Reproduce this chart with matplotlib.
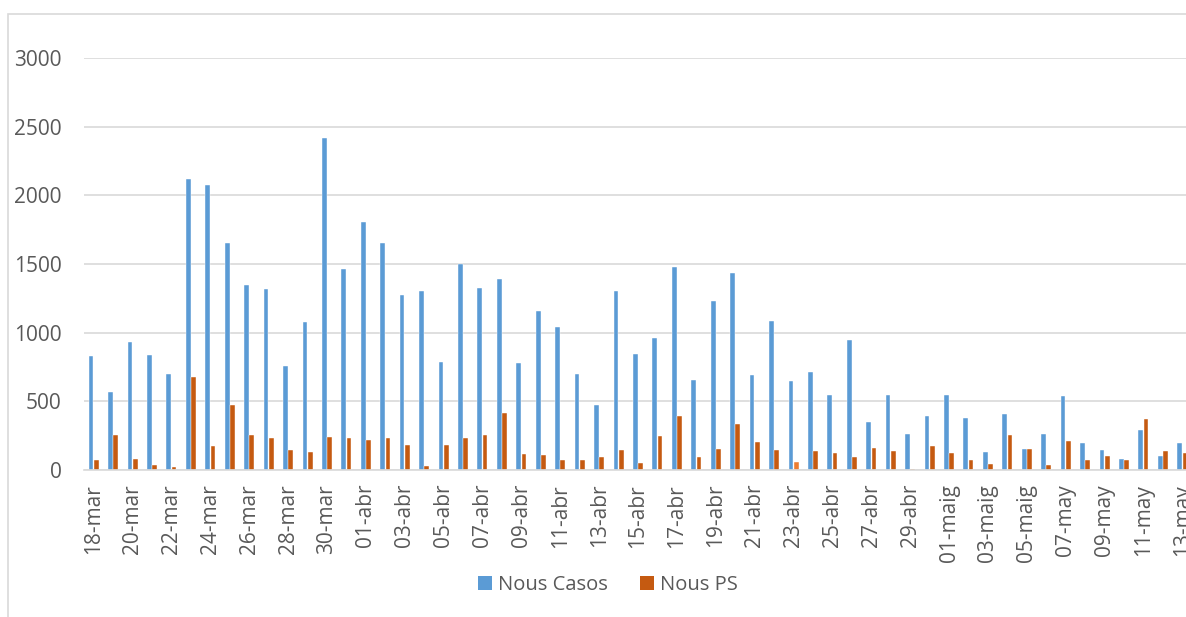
import numpy as np
import matplotlib.pyplot as plt
import matplotlib.patches as mpatches

# daily categories 18-mar .. 13-may
dates = (
    [f"{d}-mar" for d in range(18, 32)]
    + [f"{d:02d}-abr" for d in range(1, 31)]
    + [f"{d:02d}-maig" for d in range(1, 7)]
    + [f"{d:02d}-may" for d in range(7, 14)]
)

nous_casos = [
    833, 566, 930, 838, 698, 2116, 2073, 1651, 1347, 1321, 758, 1077, 2415, 1467,
    1809, 1651, 1273, 1300, 789, 1497, 1322, 1392, 779, 1156, 1039, 696, 470, 1305,
    847, 959, 1475, 652, 1227, 1434, 689, 1088, 650, 717, 549, 944, 351, 544,
    259, 390, 544, 378, 129, 405, 151, 263, 541, 200, 149, 80, 288, 105, 193,
]
nous_ps = [
    72, 258, 78, 40, 23, 680, 175, 471, 253, 235, 146, 132, 241, 235,
    221, 231, 180, 32, 185, 234, 256, 416, 117, 110, 73, 71, 97, 148,
    54, 251, 392, 97, 151, 336, 202, 144, 61, 137, 124, 95, 163, 137,
    10, 178, 127, 76, 46, 256, 151, 37, 210, 76, 105, 76, 368, 137, 124,
]

BLUE = "#5B9BD5"
ORANGE = "#C55A11"
ORANGE_LIGHT = "#ED7D31"  # one highlighted point (23-abr) in the original
TEXT = "#595959"
GRID = "#D9D9D9"

plt.rcParams["font.family"] = ["Open Sans", "DejaVu Sans"]

W, H = 1186, 617
fig = plt.figure(figsize=(W / 100, H / 100), dpi=100)

# chart area border (runs off the right and bottom edge like the screenshot)
fig.patches.append(
    mpatches.Rectangle(
        (8 / W, -0.05), 1.1, 1 - 14 / H + 0.05,
        transform=fig.transFigure, fill=False, edgecolor=GRID, linewidth=1.2,
    )
)

left, right, top, bottom = 84, 1192, 58, 470
ax = fig.add_axes([left / W, 1 - bottom / H, (right - left) / W, (bottom - top) / H])

x = np.arange(len(dates))
width = 0.245
ps_colors = [ORANGE] * len(dates)
ps_colors[dates.index("23-abr")] = ORANGE_LIGHT

ax.bar(x - 0.135, nous_casos, width, color=BLUE, edgecolor="white", linewidth=0.3)
ax.bar(x + 0.135, nous_ps, width, color=ps_colors, edgecolor="white", linewidth=0.3)

ax.set_xlim(-0.5, len(dates) - 0.5)
ax.set_ylim(0, 3000)
ax.set_yticks(np.arange(0, 3001, 500))
ax.yaxis.grid(True, color=GRID, linewidth=1.2)
ax.set_axisbelow(True)
for s in ["top", "right", "left"]:
    ax.spines[s].set_visible(False)
ax.spines["bottom"].set_color(GRID)
ax.spines["bottom"].set_linewidth(1.2)

ax.set_xticks(x[::2])
ax.set_xticklabels(dates[::2], rotation=90)
ax.tick_params(axis="both", length=0, colors=TEXT, labelsize=15)
ax.tick_params(axis="y", pad=16)
ax.tick_params(axis="x", pad=10)

handles = [
    mpatches.Patch(facecolor=BLUE, label="Nous Casos"),
    mpatches.Patch(facecolor=ORANGE, label="Nous PS"),
]
leg = fig.legend(
    handles=handles, loc="center", bbox_to_anchor=(608 / W, 1 - 585 / H), ncol=2,
    frameon=False, fontsize=14.5, handlelength=0.7, handleheight=0.7,
    handletextpad=0.3, columnspacing=1.6,
)
for t in leg.get_texts():
    t.set_color(TEXT)

fig.savefig("out.png", dpi=100)
